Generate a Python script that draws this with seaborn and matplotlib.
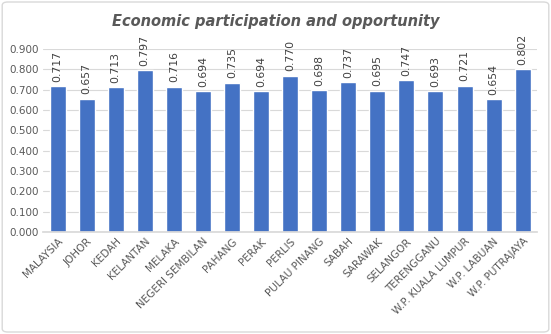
import matplotlib
matplotlib.use("Agg")
import matplotlib.pyplot as plt
import seaborn as sns
import pandas as pd
from matplotlib.patches import FancyBboxPatch

states = ["MALAYSIA", "JOHOR", "KEDAH", "KELANTAN", "MELAKA", "NEGERI SEMBILAN",
          "PAHANG", "PERAK", "PERLIS", "PULAU PINANG", "SABAH", "SARAWAK",
          "SELANGOR", "TERENGGANU", "W.P. KUALA LUMPUR", "W.P. LABUAN", "W.P. PUTRAJAYA"]
scores = [0.717, 0.657, 0.713, 0.797, 0.716, 0.694, 0.735, 0.694, 0.770,
          0.698, 0.737, 0.695, 0.747, 0.693, 0.721, 0.654, 0.802]
yticks = [0.0, 0.1, 0.2, 0.3, 0.4, 0.5, 0.6, 0.7, 0.8, 0.9]

df = pd.DataFrame({"state": states, "score": scores})

sns.set_theme(style="white")
plt.rcParams["font.family"] = ["DejaVu Sans"]

fig = plt.figure(figsize=(5.51, 3.34), dpi=100)
ax = fig.add_axes([0.078, 0.305, 0.897, 0.548])

sns.barplot(data=df, x="state", y="score", color="#4472C4", width=0.55,
            saturation=1, ax=ax)

ax.set_ylim(0, 0.9)
ax.set_yticks(yticks)
ax.set_yticklabels([f"{v:.3f}" for v in yticks])
ax.yaxis.grid(True, color="#D9D9D9", linewidth=0.8)
ax.set_axisbelow(True)
for s in ["top", "right", "left"]:
    ax.spines[s].set_visible(False)
ax.spines["bottom"].set_color("#D9D9D9")
ax.set_xlabel("")
ax.set_ylabel("")
ax.tick_params(axis="both", length=0, labelsize=7.5, labelcolor="#595959", pad=3)
plt.setp(ax.get_xticklabels(), rotation=45, ha="right", rotation_mode="anchor")
ax.set_xlim(-0.5, len(states) - 0.5)

for i, v in enumerate(scores):
    ax.text(i, v + 0.022, f"{v:.3f}", rotation=90, ha="center", va="bottom",
            fontsize=7.8, color="#404040", clip_on=False)

fig.text(0.5, 0.935, "Economic participation and opportunity", ha="center",
         va="center", fontsize=10.5, fontstyle="italic", fontweight="bold",
         color="#595959")

border = FancyBboxPatch((0.004, 0.006), 0.992, 0.988,
                        boxstyle="round,pad=0,rounding_size=0.01",
                        transform=fig.transFigure, fill=False,
                        edgecolor="#D9D9D9", linewidth=1)
fig.patches.append(border)

fig.savefig("out.png", dpi=100)
